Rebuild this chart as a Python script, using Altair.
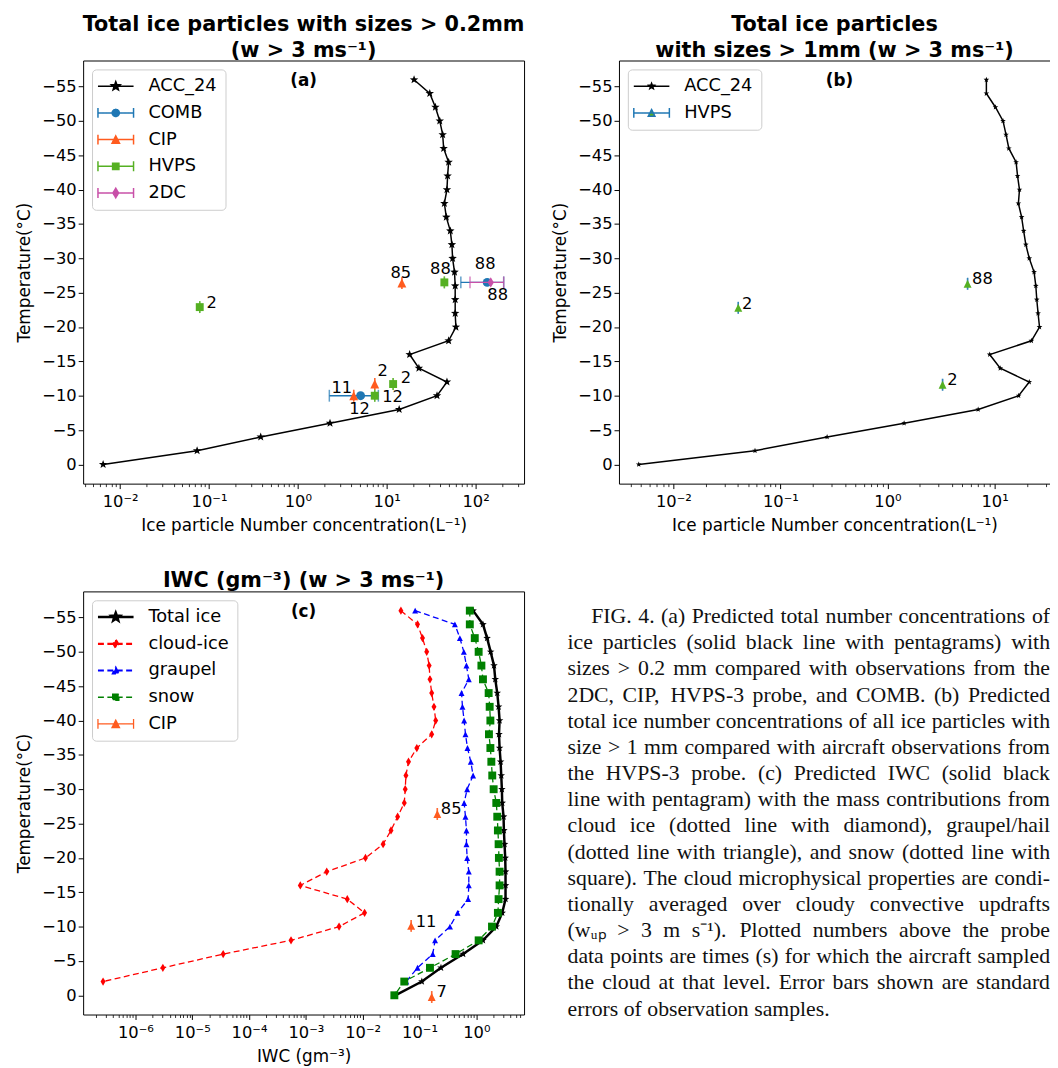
import math
import json
import altair as alt
import pandas as pd

# ---------------------------------------------------------------- data
TEMPS = [-56, -54, -52, -50, -48, -46, -44, -42, -40, -38, -36, -34, -32, -30,
         -28, -26, -24, -22, -20, -18, -16, -14, -12, -10, -8, -6, -4, -2, 0]

# panel (a): ACC_24, particles > 0.2 mm (L^-1)
ACC_A = [20.3, 30.5, 35.3, 39.5, 42.6, 43.7, 49.7, 48.4, 47.6, 44.5, 46.8, 51.9, 54.1, 55.1,
         57.9, 58.9, 58.9, 58.9, 60.0, 49.7, 18.1, 23.0, 47.6, 36.8, 13.8, 2.30, 0.382, 0.0735, 0.00644]
OBS_A_PROBE = ["HVPS", "CIP", "HVPS", "COMB", "2DC", "CIP", "HVPS", "COMB", "CIP", "HVPS"]
OBS_A_TEMP = [-22.9, -26.4, -26.5, -26.5, -26.5, -11.7, -11.7, -10.0, -10.0, -10.0]
OBS_A_VAL = [0.0787, 14.8, 44.5, 135.0, 148.0, 7.33, 11.8, 5.08, 4.25, 7.33]
OBS_A_LO = [0.0787, 14.8, 44.5, 68.2, 86.5, 7.33, 11.8, 2.26, 4.25, 7.33]
OBS_A_HI = [0.0787, 14.8, 44.5, 207.0, 207.0, 7.33, 11.8, 8.05, 4.25, 7.33]
OBS_A_TIME = ["2", "85", "88", "88", "88", "2", "2", "12", "11", "12"]

# panel (b): ACC_24, particles > 1 mm (L^-1)
ACC_B = [8.39, 8.39, 10.2, 12.0, 12.8, 13.6, 15.9, 16.4, 17.1, 16.7, 17.9, 18.7, 19.6, 21.1,
         23.4, 24.3, 24.8, 25.5, 26.3, 22.1, 9.01, 11.3, 21.1, 16.8, 7.03, 1.43, 0.273, 0.0579, 0.00475]
OBS_B_TEMP = [-22.8, -26.3, -11.6]
OBS_B_VAL = [0.0404, 5.60, 3.27]
OBS_B_TIME = ["2", "88", "2"]

# panel (c): IWC (g m^-3)
TOTAL_ICE = [0.879, 1.31, 1.55, 1.79, 2.05, 2.16, 2.34, 2.47, 2.57, 2.51, 2.57, 2.68, 2.75, 2.82,
             2.86, 3.02, 3.06, 3.14, 3.23, 3.27, 3.27, 3.27, 2.86, 2.25, 1.31, 0.587, 0.239, 0.110, 0.0375]
CLOUD_ICE = [0.0471, 0.0923, 0.113, 0.134, 0.148, 0.153, 0.164, 0.180, 0.193, 0.164, 0.0897, 0.0641,
             0.0577, 0.0561, 0.0540, 0.0412, 0.0315, 0.0229, 0.0112, 0.00233, 0.000798, 0.00536,
             0.0108, 0.00384, 0.000548, 3.50e-5, 3.04e-6, 2.69e-7]
GRAUPEL = [0.0839, 0.420, 0.514, 0.604, 0.671, 0.738, 0.550, 0.571, 0.611, 0.645, 0.700, 0.800,
           0.879, 0.690, 0.611, 0.645, 0.671, 0.671, 0.690, 0.738, 0.738, 0.718, 0.468, 0.344,
           0.188, 0.171, 0.0923, 0.0585]
SNOW = [0.769, 0.769, 0.940, 1.10, 1.23, 1.31, 1.65, 1.72, 1.77, 1.67, 1.77, 1.84, 1.91, 2.02,
        2.25, 2.34, 2.40, 2.47, 2.50, 2.57, 2.57, 2.47, 2.40, 1.89, 1.10, 0.432, 0.153, 0.0540, 0.0361]
OBS_C_TEMP = [-26.4, -10.1, 0.25]
OBS_C_VAL = [0.206, 0.0714, 0.164]
OBS_C_TIME = ["85", "11", "7"]

Y_TICKS = [-55, -50, -45, -40, -35, -30, -25, -20, -15, -10, -5, 0]
XA_MAJOR = [0.01, 0.1, 1, 10, 100]
XB_MAJOR = [0.01, 0.1, 1, 10]
XC_MAJOR = [1e-6, 1e-5, 1e-4, 1e-3, 1e-2, 0.1, 1]

CAPTION = [
    "FIG. 4. (a) Predicted total number concentrations of",
    "ice particles (solid black line with pentagrams) with",
    "sizes > 0.2 mm compared with observations from the",
    "2DC, CIP, HVPS-3 probe, and COMB. (b) Predicted",
    "total ice number concentrations of all ice particles with",
    "size > 1 mm compared with aircraft observations from",
    "the HVPS-3 probe. (c) Predicted IWC (solid black",
    "line with pentagram) with the mass contributions from",
    "cloud ice (dotted line with diamond), graupel/hail",
    "(dotted line with triangle), and snow (dotted line with",
    "square). The cloud microphysical properties are condi-",
    "tionally averaged over cloudy convective updrafts",
    "(w\u1d64\u209a > 3 m s\u207b\u00b9). Plotted numbers above the probe",
    "data points are times (s) for which the aircraft sampled",
    "the cloud at that level. Error bars shown are standard",
    "errors of observation samples.",
]

# ---------------------------------------------------------------- styles
FONT = "DejaVu Sans"
C_COMB = "#1f77b4"
C_CIP = "#ff5b1f"
C_HVPS = "#55b022"
C_2DC = "#c850a8"
C_ICE = "#ff0000"
C_GRAUPEL = "#0000ff"
C_SNOW = "#008000"

W_A, W_B, W_C, H = 446, 436, 446, 428
NO_FRAME = alt.ViewBackground(stroke="transparent", strokeWidth=0)

# label placement (pixel offsets of each time label from its point)
OFF_A = [(12, -4), (-1, -10), (-4, -13), (-2, -19), (7, 13), (8, -13), (13, -6), (-1, 13), (-12, -8), (18, 1)]
OFF_B = [(9, -4), (15, -5), (10, -5)]
OFF_C = [(14, -5), (15, -4), (10, -5)]


def star(r, inner=0.42):
    pts = []
    for i in range(10):
        a = math.radians(-90 + 36 * i)
        rr = r if i % 2 == 0 else r * inner
        pts.append(f"{rr * math.cos(a):.3f},{rr * math.sin(a):.3f}")
    return "M" + "L".join(pts) + "Z"


def circle(r):
    return f"M{-r},0A{r},{r},0,1,0,{r},0A{r},{r},0,1,0,{-r},0Z"


def tri(r):
    return f"M0,{-r}L{r},{r}L{-r},{r}Z"


def square(r):
    return f"M{-r},{-r}H{r}V{r}H{-r}Z"


def thin_diamond(r):
    return f"M0,{-r}L{0.6 * r:.3f},0L0,{r}L{-0.6 * r:.3f},0Z"


LINE = "M-9,0H9"
CAPS = "M-9,-2.5V2.5M9,-2.5V2.5"

SUPS = {-7: "\u207b\u2077", -6: "\u207b\u2076", -5: "\u207b\u2075", -4: "\u207b\u2074",
        -3: "\u207b\u00b3", -2: "\u207b\u00b2", -1: "\u207b\u00b9", 0: "\u2070",
        1: "\u00b9", 2: "\u00b2"}
LABELS = ["10" + SUPS[k] for k in range(-7, 3)]
LABEL_EXPR = json.dumps(LABELS, ensure_ascii=False) + "[round(log(datum.value)/LN10)+7]"


def minors(lo, hi):
    out = []
    for k in range(-8, 4):
        for m in range(2, 10):
            v = float(f"{m}e{k}")
            if lo <= v <= hi:
                out.append(v)
    return out


YS = alt.Scale(domain=[2.8, -58.8], nice=False, zero=False)
XA = alt.Scale(type="log", domain=[0.003837, 350.8], nice=False)
XB = alt.Scale(type="log", domain=[0.003105, 32.96], nice=False)
XC = alt.Scale(type="log", domain=[1.20e-7, 6.93], nice=False)

AXIS_DF = pd.DataFrame({"v": [1.0], "t": [-20.0]})


def axis_layers(xs, majors, xtitle, right_spine):
    lo, hi = xs.domain
    main = alt.Chart(AXIS_DF).mark_point(opacity=0).encode(
        x=alt.X("v:Q", scale=xs, axis=alt.Axis(
            orient="bottom", values=majors, labelExpr=LABEL_EXPR, title=xtitle, grid=False,
            tickSize=5, tickWidth=1, tickColor="black", domain=True, domainColor="black",
            domainWidth=1, labelFont=FONT, labelFontSize=16.5, labelColor="black",
            labelPadding=5, labelFlush=False, labelOverlap=False, titleFont=FONT,
            titleFontSize=17, titleFontWeight="normal", titleColor="black", titlePadding=8)),
        y=alt.Y("t:Q", scale=YS, axis=alt.Axis(
            orient="left", values=Y_TICKS, format="d", title="Temperature(°C)", grid=False,
            tickSize=5, tickWidth=1, tickColor="black", domain=True, domainColor="black",
            domainWidth=1, labelFont=FONT, labelFontSize=16.5, labelColor="black",
            labelPadding=2, labelFlush=False, labelOverlap=False, titleFont=FONT,
            titleFontSize=17, titleFontWeight="normal", titleColor="black", titlePadding=8)),
    )
    yright = alt.Axis(orient="right", labels=False, ticks=False, domain=True, domainColor="black",
                      domainWidth=1, grid=False, title=None) if right_spine else None
    minor = alt.Chart(AXIS_DF).mark_point(opacity=0).encode(
        x=alt.X("v:Q", scale=xs, axis=alt.Axis(
            orient="bottom", values=minors(lo, hi), labels=False, domain=False, grid=False,
            tickSize=3, tickWidth=0.8, tickColor="black", title=None)),
        y=alt.Y("t:Q", scale=YS, axis=yright),
    )
    top = alt.Chart(AXIS_DF).mark_point(opacity=0).encode(
        x=alt.X("v:Q", scale=xs, axis=alt.Axis(
            orient="top", labels=False, ticks=False, domain=True, domainColor="black",
            domainWidth=1, grid=False, title=None)),
        y=alt.Y("t:Q", scale=YS, axis=None),
    )
    return [main, minor, top]


def legend_layer(xs, names, fills, strokes, paths, dashes, widths=None):
    leg = alt.Legend(title=None, orient="top-left", offset=9, padding=8, strokeColor="#cccccc",
                     cornerRadius=4, fillColor="white", labelFont=FONT, labelFontSize=18,
                     labelColor="black", symbolSize=16, symbolStrokeWidth=1.5, symbolOpacity=1,
                     symbolOffset=7, labelOffset=24, rowPadding=9, labelLimit=300)
    df = pd.DataFrame({"series": names, "v": [1.0] * len(names), "t": [0.0] * len(names)})
    enc = dict(
        x=alt.X("v:Q", scale=xs, axis=None),
        y=alt.Y("t:Q", scale=YS, axis=None),
        fill=alt.Fill("series:N", scale=alt.Scale(domain=names, range=fills), legend=leg),
        stroke=alt.Stroke("series:N", scale=alt.Scale(domain=names, range=strokes), legend=leg),
        shape=alt.Shape("series:N", scale=alt.Scale(domain=names, range=paths), legend=leg),
        strokeDash=alt.StrokeDash("series:N", scale=alt.Scale(domain=names, range=dashes), legend=leg),
    )
    if widths is not None:
        enc["strokeWidth"] = alt.StrokeWidth("series:N", scale=alt.Scale(domain=names, range=widths),
                                             legend=leg)
    return alt.Chart(df).mark_point(filled=True, size=16, opacity=1).encode(**enc).transform_filter("false")


def series_layers(xs, temps, vals, color, shape, size, width=1.5, dash=None):
    df = pd.DataFrame({"t": temps, "v": vals})
    lk = dict(color=color, strokeWidth=width)
    if dash is not None:
        lk["strokeDash"] = dash
    line = alt.Chart(df).mark_line(**lk).encode(
        x=alt.X("v:Q", scale=xs, axis=None), y=alt.Y("t:Q", scale=YS, axis=None),
        order=alt.Order("t:Q"))
    pts = alt.Chart(df).mark_point(shape=shape, filled=True, color=color, size=size, opacity=1).encode(
        x=alt.X("v:Q", scale=xs, axis=None), y=alt.Y("t:Q", scale=YS, axis=None))
    return [line, pts]


def obs_layers(xs, temps, vals, los, his, bar_color, mark_color, shape, size):
    df = pd.DataFrame({"t": temps, "v": vals, "lo": los, "hi": his})
    X = lambda f: alt.X(f"{f}:Q", scale=xs, axis=None)
    Y = alt.Y("t:Q", scale=YS, axis=None)
    rule = alt.Chart(df).mark_rule(color=bar_color, strokeWidth=1.5).encode(
        x=X("lo"), x2="hi:Q", y=Y)
    cap1 = alt.Chart(df).mark_tick(orient="vertical", color=bar_color, size=12, thickness=1.5).encode(
        x=X("lo"), y=Y)
    cap2 = alt.Chart(df).mark_tick(orient="vertical", color=bar_color, size=12, thickness=1.5).encode(
        x=X("hi"), y=Y)
    pt = alt.Chart(df).mark_point(shape=shape, filled=True, color=mark_color, size=size, opacity=1).encode(
        x=X("v"), y=Y)
    return [rule, cap1, cap2, pt]


def label_layers(xs, temps, vals, texts, offsets):
    out = []
    for t, v, s, (dx, dy) in zip(temps, vals, texts, offsets):
        df = pd.DataFrame({"t": [t], "v": [v], "s": [s]})
        out.append(alt.Chart(df).mark_text(font=FONT, fontSize=16.5, color="black", align="center",
                                           baseline="middle", dx=dx, dy=dy).encode(
            x=alt.X("v:Q", scale=xs, axis=None), y=alt.Y("t:Q", scale=YS, axis=None), text="s:N"))
    return out


def panel_tag(text, width):
    return alt.Chart(pd.DataFrame({"s": [text]})).mark_text(
        font=FONT, fontSize=17, fontWeight="bold", color="black", align="center",
        baseline="middle").encode(x=alt.value(width / 2), y=alt.value(21), text="s:N")


def title(lines):
    return alt.TitleParams(text=lines, font=FONT, fontSize=21, fontWeight="bold", color="black",
                           anchor="middle", offset=0, lineHeight=26)


# ---------------------------------------------------------------- panel (a)
layers_a = axis_layers(XA, XA_MAJOR, "Ice particle Number concentration(L\u207b\u00b9)", True)
layers_a += series_layers(XA, TEMPS, ACC_A, "black", star(1), 81)
probe_style = {
    "COMB": (C_COMB, "circle", 81),
    "CIP": (C_CIP, tri(1), 81),
    "HVPS": (C_HVPS, square(0.8), 100),
    "2DC": (C_2DC, thin_diamond(1), 110),
}
for p in ["COMB", "CIP", "HVPS", "2DC"]:
    idx = [i for i, q in enumerate(OBS_A_PROBE) if q == p]
    c, shp, sz = probe_style[p]
    layers_a += obs_layers(XA, [OBS_A_TEMP[i] for i in idx], [OBS_A_VAL[i] for i in idx],
                           [OBS_A_LO[i] for i in idx], [OBS_A_HI[i] for i in idx], c, c, shp, sz)
layers_a += label_layers(XA, OBS_A_TEMP, OBS_A_VAL, OBS_A_TIME, OFF_A)
layers_a.append(panel_tag("(a)", W_A))
layers_a.append(legend_layer(
    XA, ["ACC_24", "COMB", "CIP", "HVPS", "2DC"],
    ["black", C_COMB, C_CIP, C_HVPS, C_2DC], ["black", C_COMB, C_CIP, C_HVPS, C_2DC],
    [LINE + star(2.3), LINE + CAPS + circle(1.8), LINE + CAPS + tri(1.9),
     LINE + CAPS + square(1.6), LINE + CAPS + thin_diamond(2.4)],
    [[1, 0]] * 5))
chart_a = alt.layer(*layers_a).resolve_axis(x="independent", y="independent").properties(
    width=W_A, height=H, view=NO_FRAME,
    title=title(["Total ice particles with sizes > 0.2mm", "(w > 3 ms\u207b\u00b9)"]))

# ---------------------------------------------------------------- panel (b)
layers_b = axis_layers(XB, XB_MAJOR, "Ice particle Number concentration(L\u207b\u00b9)", False)
layers_b += series_layers(XB, TEMPS, ACC_B, "black", star(1), 36)
layers_b += obs_layers(XB, OBS_B_TEMP, OBS_B_VAL, OBS_B_VAL, OBS_B_VAL, C_COMB, C_HVPS, tri(1), 64)
layers_b += label_layers(XB, OBS_B_TEMP, OBS_B_VAL, OBS_B_TIME, OFF_B)
layers_b.append(panel_tag("(b)", 446))
layers_b.append(legend_layer(
    XB, ["ACC_24", "HVPS"], ["black", C_HVPS], ["black", C_COMB],
    [LINE + star(1.5), LINE + CAPS + tri(1.7)], [[1, 0]] * 2))
chart_b = alt.layer(*layers_b).resolve_axis(x="independent", y="independent").properties(
    width=W_B, height=H, view=NO_FRAME,
    title=title(["Total ice particles", "with sizes > 1mm  (w > 3 ms\u207b\u00b9)"]))

# ---------------------------------------------------------------- panel (c)
DASH = [6, 3.5]
layers_c = axis_layers(XC, XC_MAJOR, "IWC (gm\u207b\u00b3)", True)
layers_c += series_layers(XC, TEMPS, TOTAL_ICE, "black", star(1), 64, width=2.5)
layers_c += series_layers(XC, TEMPS[:-1], CLOUD_ICE, C_ICE, thin_diamond(1), 70, width=1.3, dash=DASH)
layers_c += series_layers(XC, TEMPS[:-1], GRAUPEL, C_GRAUPEL, tri(1), 36, width=1.3, dash=DASH)
layers_c += series_layers(XC, TEMPS, SNOW, C_SNOW, square(0.8), 100, width=1.3, dash=DASH)
layers_c += obs_layers(XC, OBS_C_TEMP, OBS_C_VAL, OBS_C_VAL, OBS_C_VAL, C_CIP, C_CIP, tri(1), 64)
layers_c += label_layers(XC, OBS_C_TEMP, OBS_C_VAL, OBS_C_TIME, OFF_C)
layers_c.append(panel_tag("(c)", W_C))
layers_c.append(legend_layer(
    XC, ["Total ice", "cloud-ice", "graupel", "snow", "CIP"],
    ["black", C_ICE, C_GRAUPEL, C_SNOW, C_CIP], ["black", C_ICE, C_GRAUPEL, C_SNOW, C_CIP],
    [LINE + star(2.2), LINE + thin_diamond(2.0), LINE + tri(1.5), LINE + square(1.5),
     LINE + CAPS + tri(1.9)],
    [[1, 0], DASH, DASH, DASH, [1, 0]], widths=[2.5, 1.3, 1.3, 1.3, 1.5]))
chart_c = alt.layer(*layers_c).resolve_axis(x="independent", y="independent").properties(
    width=W_C, height=H, view=NO_FRAME, title=title("IWC (gm\u207b\u00b3) (w > 3 ms\u207b\u00b9)"))

# ---------------------------------------------------------------- caption (justified)
CW = {c: w for c, w in zip("abcdefghijklmnopqrstuvwxyz",
                           [444, 500, 444, 500, 444, 333, 500, 500, 278, 278, 500, 278, 778, 500,
                            500, 500, 500, 333, 389, 278, 500, 500, 722, 500, 500, 444])}
CW.update({c: w for c, w in zip("ABCDEFGHIJKLMNOPQRSTUVWXYZ",
                                [722, 667, 667, 722, 611, 556, 722, 722, 333, 389, 722, 611, 889,
                                 722, 722, 556, 722, 667, 556, 611, 722, 722, 944, 722, 722, 611])})
CW.update({d: 500 for d in "0123456789"})
CW.update({" ": 250, ".": 250, ",": 250, "(": 333, ")": 333, "-": 333, ">": 564, "/": 278, ":": 278})
CAP_FS = 22
CAP_W = 488      # text block width in px
CAP_LEFT = -52   # text block starts left of the panel's own frame


def text_w(s):
    return sum(CW.get(ch, 350) for ch in s) / 1000 * CAP_FS


left_words, right_words = [], []
for i, line in enumerate(CAPTION):
    words = line.split(" ")
    x0 = 24 if i == 0 else 0
    widths = [text_w(w) for w in words]
    if i == len(CAPTION) - 1:
        gap = 0.25 * CAP_FS
    else:
        gap = (CAP_W - x0 - sum(widths)) / (len(words) - 1)
    x = x0
    for j, (w, wd) in enumerate(zip(words, widths)):
        if j == len(words) - 1 and i != len(CAPTION) - 1:
            right_words.append({"line": i, "x": CAP_W, "w": w})
        else:
            left_words.append({"line": i, "x": x, "w": w})
        x += wd + gap

CX = alt.Scale(domain=[0, CAP_W], range=[CAP_LEFT, CAP_LEFT + CAP_W])
CY = alt.Scale(domain=[0, 15], range=[25, 422])
cap_l = alt.Chart(pd.DataFrame(left_words)).mark_text(
    font="Liberation Serif", fontSize=CAP_FS, color="#111111", align="left", baseline="middle").encode(
    x=alt.X("x:Q", scale=CX, axis=None), y=alt.Y("line:Q", scale=CY, axis=None), text="w:N")
cap_r = alt.Chart(pd.DataFrame(right_words)).mark_text(
    font="Liberation Serif", fontSize=CAP_FS, color="#111111", align="right", baseline="middle").encode(
    x=alt.X("x:Q", scale=CX, axis=None), y=alt.Y("line:Q", scale=CY, axis=None), text="w:N")
chart_d = alt.layer(cap_l, cap_r).properties(width=W_B, height=H, view=NO_FRAME)

# ---------------------------------------------------------------- layout
chart = alt.concat(
    chart_a, chart_b, chart_c, chart_d, columns=2,
    spacing={"row": 109, "column": 96}, bounds="flush",
).resolve_scale(
    fill="independent", stroke="independent", shape="independent",
    strokeDash="independent", strokeWidth="independent",
).properties(
    padding={"left": 8, "top": 0, "right": 0, "bottom": 0}
).configure_view(stroke="transparent", strokeWidth=0).configure(font=FONT)

chart.save("out.html", embed_options={"renderer": "svg", "actions": False})
